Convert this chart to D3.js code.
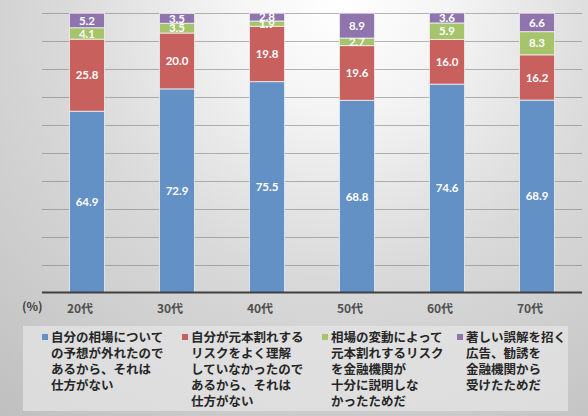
<!DOCTYPE html>
<html>
<head>
<meta charset="utf-8">
<script src="https://cdn.jsdelivr.net/npm/d3@7"></script>
<style>
  body { margin: 0; background: #fff; }
  svg { display: block; }
</style>
</head>
<body>
<div id="chart"></div>
<script>
// age groups
var categories = ["20代", "30代", "40代", "50代", "60代", "70代"];

// answers, bottom to top
var seriesNames = ["s1", "s2", "s3", "s4"];
var s1 = [64.9, 72.9, 75.5, 68.8, 74.6, 68.9];
var s2 = [25.8, 20.0, 19.8, 19.6, 16.0, 16.2];
var s3 = [4.1, 3.5, 1.9, 2.7, 5.9, 8.3];
var s4 = [5.2, 3.5, 2.8, 8.9, 3.6, 6.6];

var yTicks = [0, 10, 20, 30, 40, 50, 60, 70, 80, 90, 100];

var legendLines = [
  ["自分の相場について", "の予想が外れたので", "あるから、それは", "仕方がない"],
  ["自分が元本割れする", "リスクをよく理解", "していなかったので", "あるから、それは", "仕方がない"],
  ["相場の変動によって", "元本割れするリスク", "を金融機関が", "十分に説明しな", "かったためだ"],
  ["著しい誤解を招く", "広告、勧誘を", "金融機関から", "受けたためだ"]
];

var colors = ["#6391c5", "#c8605e", "#a6c46b", "#8f74ad"];

var W = 588, H = 416;

var svg = d3.select("#chart").append("svg")
  .attr("width", W)
  .attr("height", H);

// background gradient
var defs = svg.append("defs");
var grad = defs.append("radialGradient")
  .attr("id", "bg")
  .attr("gradientUnits", "userSpaceOnUse")
  .attr("cx", 340).attr("cy", 0).attr("r", 560);
grad.append("stop").attr("offset", "0").attr("stop-color", "#ffffff");
grad.append("stop").attr("offset", "0.2").attr("stop-color", "#f4f4f4");
grad.append("stop").attr("offset", "0.5").attr("stop-color", "#d9d9d9");
grad.append("stop").attr("offset", "1").attr("stop-color", "#bdbdbd");

svg.append("rect")
  .attr("width", W).attr("height", H)
  .attr("fill", "url(#bg)");

var x = d3.scaleBand()
  .domain(categories)
  .range([42, 582])
  .paddingInner(0.61)
  .paddingOuter(0.305);

var y = d3.scaleLinear()
  .domain([0, 100])
  .range([292.5, 13.2]);

// gridlines
svg.append("g").selectAll("line")
  .data(yTicks.slice(1))
  .enter().append("line")
  .attr("x1", 42).attr("x2", 582)
  .attr("y1", function(d) { return Math.round(y(d)) + 0.5; })
  .attr("y2", function(d) { return Math.round(y(d)) + 0.5; })
  .attr("stroke", "#7a7a7a")
  .attr("stroke-opacity", 0.55)
  .attr("stroke-width", 1);

// stack
var table = categories.map(function(c, i) {
  return { cat: c, s1: s1[i], s2: s2[i], s3: s3[i], s4: s4[i] };
});
var stacked = d3.stack().keys(seriesNames)(table);

var layers = svg.append("g").selectAll("g")
  .data(stacked)
  .enter().append("g")
  .attr("fill", function(d, i) { return colors[i]; });

layers.selectAll("rect")
  .data(function(d) { return d; })
  .enter().append("rect")
  .attr("x", function(d) { return x(d.data.cat); })
  .attr("width", x.bandwidth())
  .attr("y", function(d) { return y(d[1]); })
  .attr("height", function(d) { return y(d[0]) - y(d[1]); })
  .attr("stroke", "#f2f2f2")
  .attr("stroke-opacity", 0.8)
  .attr("stroke-width", 1);

// value labels
layers.selectAll("text")
  .data(function(d) { return d; })
  .enter().append("text")
  .attr("x", function(d) { return x(d.data.cat) + x.bandwidth() / 2; })
  .attr("y", function(d) { return (y(d[0]) + y(d[1])) / 2; })
  .attr("dy", "0.36em")
  .attr("text-anchor", "middle")
  .attr("fill", "#ffffff")
  .style("font-family", "Lato, 'Open Sans', sans-serif")
  .style("font-weight", "bold")
  .style("font-size", "11.5px")
  .text(function(d) { return (d[1] - d[0]).toFixed(1); });

// x axis line
svg.append("line")
  .attr("x1", 42).attr("x2", 582)
  .attr("y1", y(0)).attr("y2", y(0))
  .attr("stroke", "#404040")
  .attr("stroke-width", 2);

// category labels
svg.append("g").selectAll("text")
  .data(categories)
  .enter().append("text")
  .attr("x", function(d) { return x(d) + x.bandwidth() / 2 - 7; })
  .attr("y", 313)
  .attr("text-anchor", "middle")
  .attr("fill", "#505050")
  .style("font-family", "'Noto Sans CJK JP', sans-serif")
  .style("font-weight", "bold")
  .style("font-size", "12px")
  .text(function(d) { return d; });

svg.append("text")
  .attr("x", 22)
  .attr("y", 311)
  .attr("fill", "#404040")
  .style("font-family", "'Noto Sans CJK JP', sans-serif")
  .style("font-weight", "bold")
  .style("font-size", "12px")
  .text("(%)");

// legend
svg.append("rect")
  .attr("x", 23).attr("y", 326)
  .attr("width", 545).attr("height", 85)
  .attr("fill", "#e4e4e4")
  .attr("fill-opacity", 0.75);

var legendX = [42, 182, 322, 457];

var items = svg.append("g").selectAll("g")
  .data(legendLines)
  .enter().append("g")
  .attr("transform", function(d, i) { return "translate(" + legendX[i] + ",0)"; });

items.append("rect")
  .attr("x", 0).attr("y", 334)
  .attr("width", 6).attr("height", 6)
  .attr("fill", function(d, i) { return colors[i]; });

items.append("text")
  .attr("fill", "#262626")
  .style("font-family", "'Noto Sans CJK JP', sans-serif")
  .style("font-weight", "bold")
  .style("font-size", "12.5px")
  .selectAll("tspan")
  .data(function(d) { return d; })
  .enter().append("tspan")
  .attr("x", 9)
  .attr("y", function(d, i) { return 342 + i * 16; })
  .text(function(d) { return d; });
</script>
</body>
</html>
